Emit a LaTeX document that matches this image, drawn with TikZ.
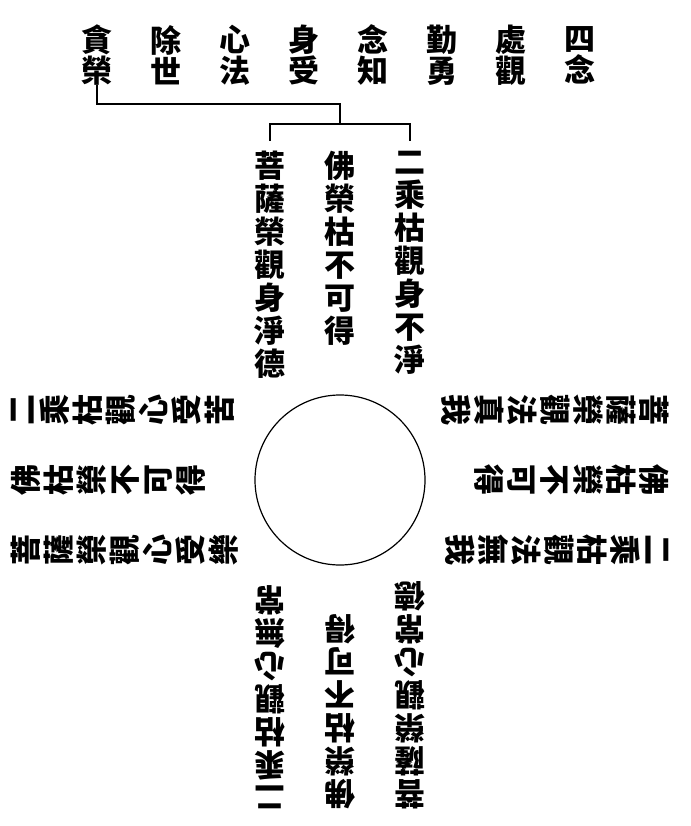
\documentclass[tikz,border=0pt]{standalone}
\usepackage{fontspec}
\newfontfamily\cjk{Noto Sans CJK TC}
\begin{document}
\begin{tikzpicture}[x=1pt,y=-1pt,
        word/.style = {font=\cjk\bfseries\fontsize{31}{33}\selectfont,
            align=center,
            inner sep=0pt
        },
        column/.style = {word, anchor=north, transform shape},
        head/.style = {word, font=\cjk\bfseries\fontsize{31}{31}\selectfont},
        bracket/.style = {line width=1.2pt}
    ]
    \useasboundingbox (0,0) rectangle (690,826);

    % Heading, read from right to left
    \node [head] (h1) at (580,55) {四\\念};
    \node [head] (h2) at (511,55) {處\\觀};
    \node [head] (h3) at (442,55) {勤\\勇};
    \node [head] (h4) at (373,55) {念\\知};
    \node [head] (h5) at (304,55) {身\\受};
    \node [head] (h6) at (235,55) {心\\法};
    \node [head] (h7) at (166,55) {除\\世};
    \node [head] (h8) at (97,55) {貪\\榮};

    % Wheel in the middle
    \coordinate (hub) at (340,480);
    \node [circle, draw, line width=1.2pt,
        minimum size=170pt, inner sep=0pt] (wheel) at (hub) {};

    % Top arm: body
    \node [column] (t1) at (410,151) {二\\乘\\枯\\觀\\身\\不\\淨};
    \node [column] (t2) at (340,151) {佛\\榮\\枯\\不\\可\\得};
    \node [column] (t3) at (270,151) {菩\\薩\\榮\\觀\\身\\淨\\德};

    % Left arm: feeling
    \begin{scope}[rotate around={90:(hub)}]
        \node [column] (l1) at (410,151) {二\\乘\\枯\\觀\\心\\受\\苦};
        \node [column] (l2) at (340,151) {佛\\枯\\榮\\不\\可\\得};
        \node [column] (l3) at (270,151) {菩\\薩\\榮\\觀\\心\\受\\樂};
    \end{scope}

    % Bottom arm: mind
    \begin{scope}[rotate around={180:(hub)}]
        \node [column] (b1) at (410,151) {二\\乘\\枯\\觀\\心\\無\\常};
        \node [column] (b2) at (340,151) {佛\\榮\\枯\\不\\可\\得};
        \node [column] (b3) at (270,151) {菩\\薩\\榮\\觀\\心\\常\\德};
    \end{scope}

    % Right arm: dharmas
    \begin{scope}[rotate around={-90:(hub)}]
        \node [column] (r1) at (410,151) {二\\乘\\枯\\觀\\法\\無\\我};
        \node [column] (r2) at (340,151) {佛\\枯\\榮\\不\\可\\得};
        \node [column] (r3) at (270,151) {菩\\薩\\榮\\觀\\法\\真\\我};
    \end{scope}

    % Brackets
    \coordinate (j1) at (340,104);
    \coordinate (j2) at (340,124);
    \draw [bracket] (h8.south) |- (j1) -- (j2);
    \draw [bracket, shorten <=10pt, shorten >=10pt] (t3.north) |- (j2) -| (t1.north);

\end{tikzpicture}
\end{document}
